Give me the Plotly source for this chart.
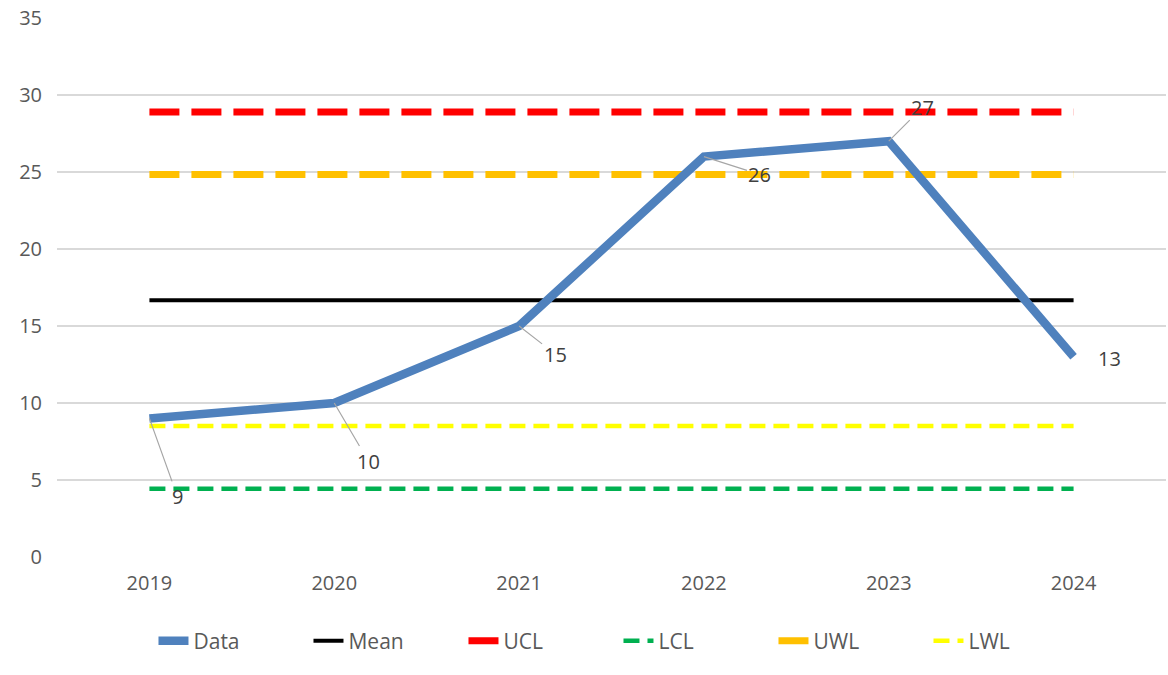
import plotly.graph_objects as go

years = ["2019", "2020", "2021", "2022", "2023", "2024"]
data = [9, 10, 15, 26, 27, 13]
mean_val = 16.67
ucl_val = 28.9
uwl_val = 24.83
lwl_val = 8.5
lcl_val = 4.43

y_ticks = [0, 5, 10, 15, 20, 25, 30, 35]

# label offsets (pixels) for each data label: (ax, ay, show leader)
label_offsets = [(28, 78, True), (34, 58, True), (36, 28, True),
                 (56, 18, True), (34, -34, True), (36, 0, False)]

fig = go.Figure()

def hline(name, value, color, width, dash, rank):
    fig.add_trace(go.Scatter(
        x=years, y=[value] * len(years), mode="lines", name=name,
        line=dict(color=color, width=width, dash=dash),
        legendrank=rank, hoverinfo="skip"))

hline("Mean", mean_val, "#000000", 4, "solid", 2)
hline("UCL", ucl_val, "#FF0000", 7, "30px,12px", 3)
hline("LCL", lcl_val, "#00B050", 4.5, "16px,8px", 4)
hline("UWL", uwl_val, "#FFC000", 7, "30px,12px", 5)
hline("LWL", lwl_val, "#FFFF00", 4.5, "16px,8px", 6)

fig.add_trace(go.Scatter(
    x=years, y=data, mode="lines", name="Data",
    line=dict(color="#4F81BD", width=8.5), legendrank=1))

# data labels; x given as category index
for i, (v, (ax, ay, leader)) in enumerate(zip(data, label_offsets)):
    if leader:
        fig.add_annotation(
            x=i, y=v, text=str(v), showarrow=True, arrowhead=0,
            arrowwidth=1.2, arrowcolor="#A6A6A6", ax=ax, ay=ay,
            standoff=0, font=dict(size=20, color="#404040"))
    else:
        fig.add_annotation(
            x=i, y=v, text=str(v), showarrow=False, xshift=ax, yshift=-2,
            font=dict(size=20, color="#404040"))

fig.update_layout(
    width=1168, height=675,
    margin=dict(l=57, r=2, t=18, b=118),
    plot_bgcolor="white", paper_bgcolor="white",
    font=dict(family="Open Sans, Liberation Sans, sans-serif", size=18, color="#595959"),
    showlegend=True,
    legend=dict(orientation="h", x=0.087, xanchor="left", y=-0.118, yanchor="top",
                font=dict(size=21, color="#595959"), entrywidth=110,
                entrywidthmode="pixels", traceorder="normal"),
    xaxis=dict(type="category", range=[-0.5, 5.5], showgrid=False, zeroline=False,
               showline=False, ticks="",
               tickfont=dict(size=20, color="#595959"), ticklabelstandoff=12),
    yaxis=dict(range=[0, 35], tickvals=y_ticks, showgrid=True, gridcolor="#D9D9D9",
               gridwidth=1.5, zeroline=False, showline=False, ticks="",
               tickfont=dict(size=20, color="#595959"), ticklabelstandoff=14),
)

fig.write_html("out.html")
